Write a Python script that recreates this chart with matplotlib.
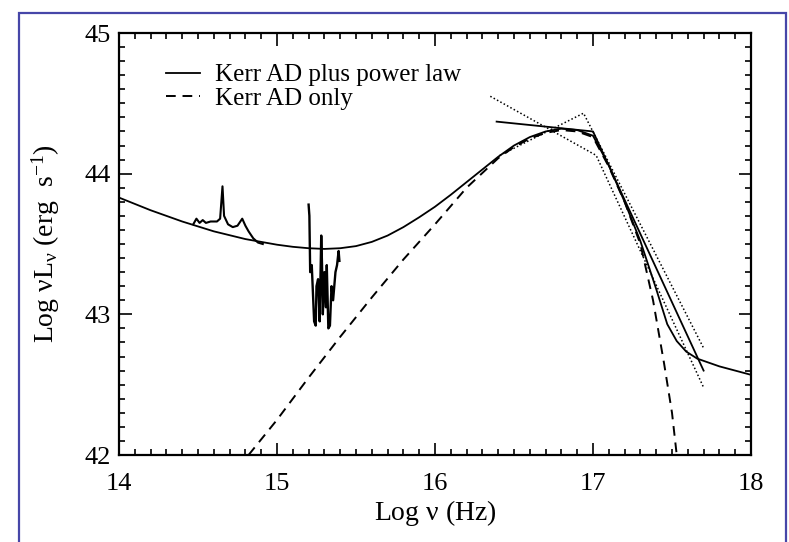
import matplotlib
matplotlib.use("Agg")
import matplotlib.pyplot as plt
from matplotlib.patches import Rectangle
from matplotlib.ticker import MultipleLocator
from matplotlib.lines import Line2D

plt.rcParams['font.family'] = ['Liberation Serif', 'DejaVu Serif']
plt.rcParams['mathtext.fontset'] = 'custom'
plt.rcParams['mathtext.rm'] = 'Liberation Serif'
plt.rcParams['mathtext.it'] = 'Liberation Serif:italic'

# Kerr AD plus power law model (smooth solid)
model_x = [14.0, 14.2, 14.4, 14.6, 14.8, 15.0, 15.1, 15.2, 15.3, 15.4, 15.5, 15.6, 15.7, 15.8, 15.9,
           16.0, 16.1, 16.2, 16.3, 16.4, 16.5, 16.6, 16.7, 16.8, 16.9, 17.0, 17.1, 17.2, 17.3, 17.4,
           17.47, 17.53, 17.59, 17.66, 17.8, 17.9, 18.0]
model_y = [43.83, 43.74, 43.66, 43.59, 43.535, 43.495, 43.48, 43.47, 43.465, 43.47, 43.485, 43.515,
           43.56, 43.62, 43.69, 43.765, 43.85, 43.94, 44.03, 44.12, 44.20, 44.26, 44.30, 44.32, 44.31,
           44.27, 44.06, 43.80, 43.52, 43.18, 42.93, 42.81, 42.735, 42.685, 42.63, 42.60, 42.57]

# Kerr AD only (dashed)
ad_x = [14.82, 15.0, 15.2, 15.4, 15.6, 15.8, 16.0, 16.2, 16.4, 16.5, 16.6, 16.7, 16.8, 16.9, 17.0,
        17.1, 17.2, 17.3, 17.38, 17.45, 17.5, 17.53]
ad_y = [42.0, 42.25, 42.55, 42.84, 43.12, 43.39, 43.64, 43.90, 44.11, 44.19, 44.25, 44.29, 44.31,
        44.30, 44.26, 44.05, 43.80, 43.50, 43.10, 42.65, 42.30, 42.0]

# optical spectrum
opt_x = [14.47, 14.49, 14.51, 14.53, 14.55, 14.58, 14.62, 14.64, 14.655, 14.665, 14.69, 14.72,
         14.75, 14.78, 14.80, 14.82, 14.85, 14.88, 14.91]
opt_y = [43.64, 43.68, 43.65, 43.67, 43.65, 43.66, 43.66, 43.68, 43.91, 43.70, 43.64, 43.62,
         43.63, 43.68, 43.63, 43.59, 43.54, 43.51, 43.50]

# UV spectrum
uv_x = [15.20, 15.205, 15.21, 15.22, 15.235, 15.245, 15.25, 15.26, 15.27, 15.28, 15.285, 15.29,
        15.30, 15.31, 15.315, 15.325, 15.335, 15.345, 15.355, 15.37, 15.38, 15.39, 15.395]
uv_y = [43.78, 43.70, 43.30, 43.35, 42.95, 42.92, 43.20, 43.25, 42.95, 43.56, 43.35, 43.00,
        43.30, 43.05, 43.35, 42.90, 42.92, 43.20, 43.10, 43.30, 43.35, 43.45, 43.38]

# X-ray broken power law fit and its bounds
bpl_x = [16.39, 17.0, 17.70]
bpl_y = [44.37, 44.30, 42.60]
bpl_lo_x = [16.35, 17.02, 17.70]
bpl_lo_y = [44.55, 44.13, 42.48]
bpl_hi_x = [16.41, 16.94, 17.70]
bpl_hi_y = [44.13, 44.43, 42.76]

fig = plt.figure(figsize=(7.89, 5.42), dpi=100)
ax = fig.add_axes([119/789, 1-455/542, (751-119)/789, (455-33)/542])

lw = 1.3
ax.plot(model_x, model_y, color='black', lw=lw)
ax.plot(ad_x, ad_y, color='black', lw=1.4, linestyle=(0, (5, 3.5)))
ax.plot(opt_x, opt_y, color='black', lw=1.5)
ax.plot(uv_x, uv_y, color='black', lw=1.7)
ax.plot(bpl_x, bpl_y, color='black', lw=lw)
ax.plot(bpl_lo_x, bpl_lo_y, color='black', lw=1.1, linestyle=(0, (1, 1.5)))
ax.plot(bpl_hi_x, bpl_hi_y, color='black', lw=1.1, linestyle=(0, (1, 1.5)))

ax.set_xlim(14, 18)
ax.set_ylim(42, 45)
ax.xaxis.set_major_locator(MultipleLocator(1))
ax.xaxis.set_minor_locator(MultipleLocator(0.1))
ax.yaxis.set_major_locator(MultipleLocator(1))
ax.yaxis.set_minor_locator(MultipleLocator(0.1))
ax.tick_params(which='both', direction='in', top=True, right=True, width=1.2, labelsize=19)
ax.tick_params(which='major', length=9)
ax.tick_params(which='minor', length=4.5)
ax.tick_params(axis='x', which='major', pad=13)
ax.tick_params(axis='y', which='major', pad=6)
for s in ax.spines.values():
    s.set_linewidth(1.6)

ax.set_xlabel(r'Log $\mathrm{\nu}$ (Hz)', fontsize=20, labelpad=2)
ax.set_ylabel(r'Log $\mathrm{\nu L_{\nu}}$ (erg  s$^{\mathrm{-1}}$)', fontsize=20)
ax.yaxis.set_label_coords(-0.09, 0.5)

handles = [Line2D([], [], color='black', lw=lw),
           Line2D([], [], color='black', lw=1.4, linestyle=(0, (5, 3.5)))]
ax.legend(handles, ['Kerr AD plus power law', 'Kerr AD only'], loc='upper left',
          bbox_to_anchor=(0.075, 0.927), frameon=False, fontsize=18,
          handlelength=1.35, handletextpad=0.6, labelspacing=0.05, borderaxespad=0,
          borderpad=0)

fig.add_artist(Rectangle((18.5/789, -0.05), (786-18.5)/789, 1.05 - 13/542, transform=fig.transFigure,
                         fill=False, edgecolor='#4646a8', lw=1.6))

fig.savefig('out.png', dpi=100)
